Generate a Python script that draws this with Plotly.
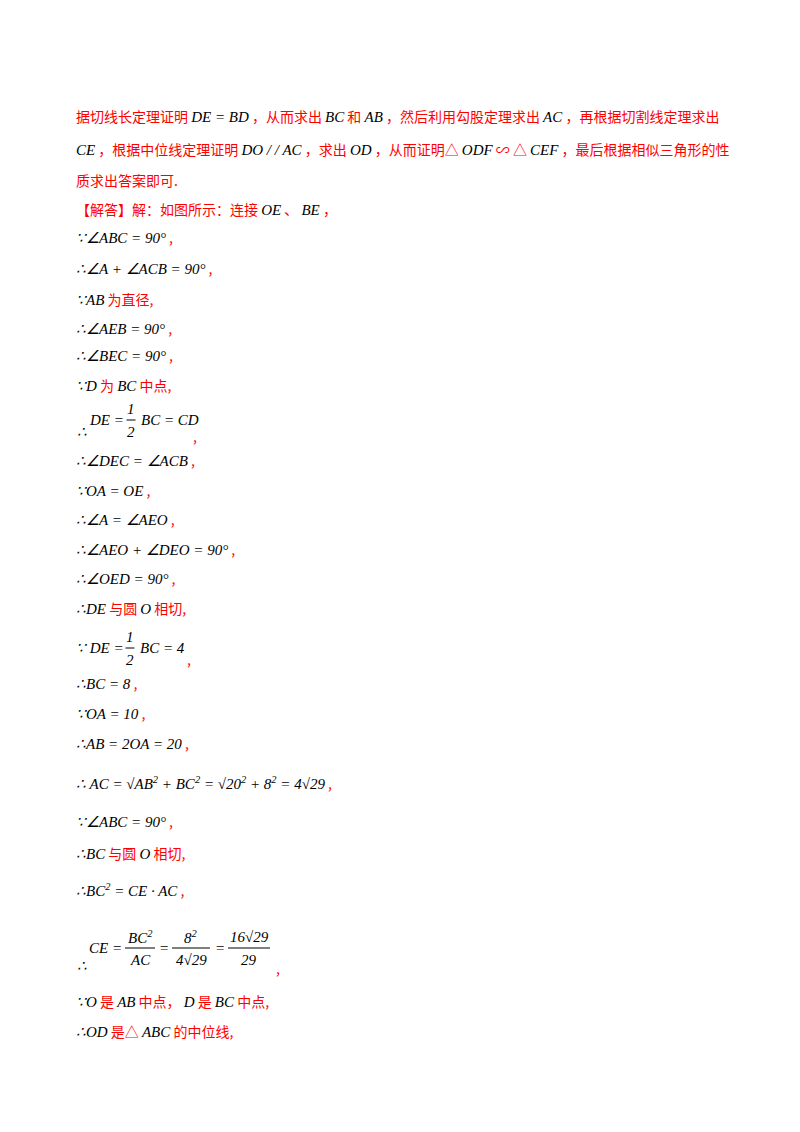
import plotly.graph_objects as go

W, H = 800, 1132
RED = "#ff0000"
MATH_FONT = "Liberation Serif"
CJK_FONT = "Noto Sans CJK SC"

# text lines: (y position in px, content); $...$ marks math (black italic)
line_y = [108, 141, 172, 201, 229, 260, 291, 320, 347, 377,
          452, 482, 511, 541, 570, 600, 675, 705, 735, 775,
          813, 845, 882, 993, 1023]
line_text = [
    "据切线长定理证明 $DE = BD$ ，从而求出 $BC$ 和 $AB$ ，然后利用勾股定理求出 $AC$ ，再根据切割线定理求出",
    "$CE$ ，根据中位线定理证明 $DO / / AC$ ，求出 $OD$ ，从而证明△ $ODF$ ∽ △ $CEF$ ，最后根据相似三角形的性",
    "质求出答案即可.",
    "【解答】解：如图所示：连接 $OE$ 、 $BE$ ，",
    "$∵∠ABC = 90°$ ,",
    "$∴∠A + ∠ACB = 90°$ ,",
    "$∵AB$ 为直径,",
    "$∴∠AEB = 90°$ ,",
    "$∴∠BEC = 90°$ ,",
    "$∵D$ 为 $BC$ 中点,",
    "$∴∠DEC = ∠ACB$ ,",
    "$∵OA = OE$ ,",
    "$∴∠A = ∠AEO$ ,",
    "$∴∠AEO + ∠DEO = 90°$ ,",
    "$∴∠OED = 90°$ ,",
    "$∴DE$ 与圆 $O$ 相切,",
    "$∴BC = 8$ ,",
    "$∵OA = 10$ ,",
    "$∴AB = 2OA = 20$ ,",
    "$∴ AC = √AB<sup>2</sup> + BC<sup>2</sup> = √20<sup>2</sup> + 8<sup>2</sup> = 4√29$ ,",
    "$∵∠ABC = 90°$ ,",
    "$∴BC$ 与圆 $O$ 相切,",
    "$∴BC<sup>2</sup> = CE · AC$ ,",
    "$∵O$ 是 $AB$ 中点， $D$ 是 $BC$ 中点,",
    "$∴OD$ 是△ $ABC$ 的中位线,",
]

annotations = []
shapes = []


def px(x, y):
    return (x - 9) / W, 1 - y / H


def add(x, y, text, anchor="left", size=14):
    ax, ay = px(x, y)
    annotations.append(dict(x=ax, y=ay, xref="paper", yref="paper", text=text,
                            showarrow=False, xanchor=anchor, yanchor="middle",
                            font=dict(size=size, family=CJK_FONT, color=RED)))


def render(s):
    parts = s.split("$")
    out = []
    for i, p in enumerate(parts):
        if not p:
            continue
        if i % 2:
            out.append(f"<span style='font-family:{MATH_FONT};color:black;font-size:15px'><i>{p}</i></span>")
        else:
            out.append(p)
    return "".join(out)


def frac(xc, y, num, den, w):
    add(xc, y - 11, render("$" + num + "$"), "center")
    add(xc, y + 12, render("$" + den + "$"), "center")
    x0, y0 = px(xc - w / 2, y)
    x1, _ = px(xc + w / 2, y)
    shapes.append(dict(type="line", xref="paper", yref="paper", x0=x0, x1=x1, y0=y0, y1=y0,
                       line=dict(color="black", width=1)))


for y, t in zip(line_y, line_text):
    add(75, y, render(t))

# fraction lines
add(76, 424, render("$∴$"))
add(88, 412, render("$DE =$"))
frac(132, 412, "1", "2", 9)
add(140, 412, render("$BC = CD$"))
add(192, 428, ",")

add(75, 640, render("$∵ DE =$"))
frac(131, 640, "1", "2", 9)
add(139, 640, render("$BC = 4$"))
add(186, 651, ",")

add(76, 958, render("$∴$"))
add(88, 940, render("$CE =$"))
frac(141, 940, "BC<sup>2</sup>", "AC", 30)
add(158, 940, render("$=$"))
frac(192, 940, "8<sup>2</sup>", "4√29", 38)
add(214, 940, render("$=$"))
frac(250, 940, "16√29", "29", 42)
add(275, 960, ",")

fig = go.Figure()
fig.update_layout(width=W, height=H, margin=dict(l=0, r=0, t=0, b=0),
                  paper_bgcolor="white", plot_bgcolor="white",
                  xaxis=dict(visible=False), yaxis=dict(visible=False),
                  annotations=annotations, shapes=shapes)
fig.write_html("out.html")
